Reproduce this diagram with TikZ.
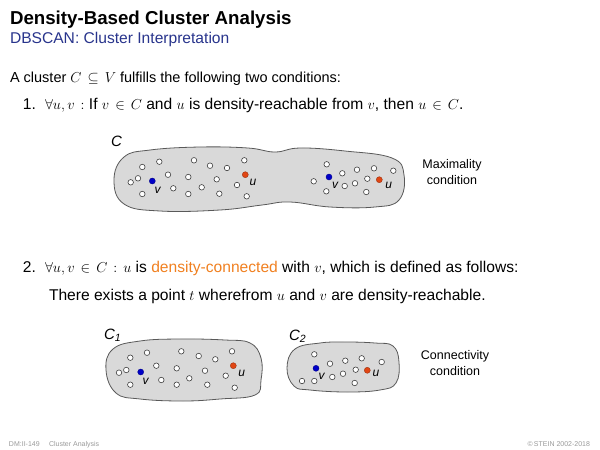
\documentclass[tikz,border=0pt]{standalone}
\usepackage{amsmath,amssymb}
\usepackage{fontspec}
\setmainfont{Liberation Sans}
\usepackage{tikz}
\definecolor{slideblue}{RGB}{40,52,140}
\definecolor{hlorange}{RGB}{240,128,32}
\definecolor{ptblue}{RGB}{0,0,200}
\definecolor{ptred}{RGB}{225,70,20}
\thickmuskip=7.5mu plus 5mu
\tikzset{
  slide/.style={x=1pt, y=-1pt, every node/.style={inner sep=0pt, outer sep=0pt}},
  txt/.style={anchor=base west, font=\fontsize{15.6}{18}\selectfont},
  blob/.style={draw=black!65, fill=black!15, line width=0.8pt},
  pt/.style={circle, draw=black!75, fill=white, line width=0.6pt, minimum size=5.5pt},
  vpt/.style={circle, fill=ptblue, draw=ptblue!70!black, line width=0.4pt, minimum size=6pt},
  upt/.style={circle, fill=ptred, draw=ptred!70!black, line width=0.4pt, minimum size=6pt},
  plbl/.style={font=\fontsize{12}{14}\selectfont\itshape},
  clbl/.style={anchor=base west, font=\fontsize{15}{18}\selectfont\itshape},
  cond/.style={align=center, font=\fontsize{12.5}{15.5}\selectfont},
  foot/.style={anchor=base west, text=black!40, font=\fontsize{7}{8}\selectfont}
}

\begin{document}
\begin{tikzpicture}[slide]
\useasboundingbox (0,0) rectangle (600,450);
% heading
\node[anchor=base west, font=\fontsize{18.7}{22}\selectfont\bfseries] (title) at (10,24) {Density-Based Cluster Analysis};
\node[anchor=base west, text=slideblue, font=\fontsize{15.6}{18}\selectfont] (subtitle) at (10,43) {DBSCAN: Cluster Interpretation};
% the two conditions
\node[txt, font=\fontsize{14.5}{18}\selectfont] (intro) at (10,82) {A cluster $C\subseteq V$ fulfills the following two conditions:};
\node[txt, anchor=base east] (n1) at (36,109) {1.};
\node[txt] (cond1) at (45,109) {$\forall u,v:$ If $v\in C$ and $u$ is density-reachable from $v$, then $u\in C$.};
\node[txt, anchor=base east] (n2) at (36,272) {2.};
\node[txt] (cond2) at (45,272) {$\forall u,v\in C: u$ is \textcolor{hlorange}{density-connected} with $v$, which is defined as follows:};
\node[txt] (cond2b) at (49,300) {There exists a point $t$ wherefrom $u$ and $v$ are density-reachable.};

% cluster C (maximality)
\draw[blob] plot[smooth cycle, tension=0.7] coordinates {(114,180) (124,157) (150,150) (200,147) (248,148) (275,152) (300,148) (345,151) (392,158) (404,175) (399,200) (375,207) (330,207) (290,202) (262,205) (220,210) (160,211) (124,204)};
\node[clbl] (C) at (111,146.5) {C};
\foreach \x/\y [count=\i] in {142.3/167, 159.3/161.7, 138/178.3, 130.7/182.3, 168/174.7, 142.3/194, 173.3/188.3, 194/160.3, 210/165.7, 227/168, 244.3/160.3, 188.3/177, 216.7/179.3, 237/185, 188.3/194, 201.7/187.3, 219.3/193.7, 246.7/196.3}
  \node[pt] (a\i) at (\x,\y) {};
\foreach \x/\y [count=\i] in {326.7/164.3, 313.7/181.3, 342.3/173.3, 357/169.7, 374/168.3, 393.3/170.7, 367.3/178.7, 355/183.3, 344.7/186, 326.3/191.3, 366.3/192}
  \node[pt] (b\i) at (\x,\y) {};
\node[vpt] (va) at (152.3,181) {};
\node[upt] (ua) at (245.3,174.7) {};
\node[vpt] (vb) at (329,177) {};
\node[upt] (ub) at (379.3,179.7) {};
\node[plbl] (va lbl) at (157.5,190) {v};
\node[plbl] (ua lbl) at (253,182.5) {u};
\node[plbl] (vb lbl) at (335,185) {v};
\node[plbl] (ub lbl) at (388.7,185) {u};
\node[cond] (maxcond) at (452,172) {Maximality\\condition};

% clusters C1 and C2 (connectivity)
\draw[blob] plot[smooth cycle, tension=0.7] coordinates {(106,370) (113,349) (140,341) (180,339) (225,340) (250,343) (261,358) (261,380) (255,395) (220,399) (183,401) (140,399) (116,393)};
\draw[blob] plot[smooth cycle, tension=0.7] coordinates {(287,368) (295,349) (320,343) (345,342) (375,343) (393,346) (399,362) (396,383) (380,390) (347,392) (310,390) (294,386)};
\node[clbl] (C1) at (104,339.5) {C\textsubscript{1}};
\node[clbl] (C2) at (289,340.5) {C\textsubscript{2}};
\foreach \x/\y [count=\i] in {130.3/357.7, 147/352.7, 119/372.7, 126.3/370, 156.3/365.7, 130.3/384.7, 161.3/380, 181.3/351.3, 198.7/356, 215.3/359.3, 232/351.3, 176.7/368.3, 205/370.7, 225.7/375.7, 176.7/384.7, 189.3/378.3, 207.3/384.7, 234.7/387.7}
  \node[pt] (c\i) at (\x,\y) {};
\foreach \x/\y [count=\i] in {314.3/354.3, 302/381, 330/363.7, 345.3/360.7, 361.7/358.3, 381.7/362, 314.3/381, 332.3/377, 343/373.7, 355.7/369.7, 354.7/383}
  \node[pt] (d\i) at (\x,\y) {};
\node[vpt] (vc) at (140.7,372) {};
\node[upt] (uc) at (233.3,365.7) {};
\node[vpt] (vd) at (316,368.3) {};
\node[upt] (ud) at (367.3,370.3) {};
\node[plbl] (vc lbl) at (145.7,381) {v};
\node[plbl] (uc lbl) at (241.7,373) {u};
\node[plbl] (vd lbl) at (321.7,376) {v};
\node[plbl] (ud lbl) at (376,373.5) {u};
\node[cond] (concond) at (455,363) {Connectivity\\condition};

% footer
\node[foot] (footl) at (9,446) {DM:II-149};
\node[foot] (footm) at (49,446) {Cluster Analysis};
\node[foot, anchor=base east] (footr) at (590,446) {\textcopyright\,STEIN 2002-2018};
\end{tikzpicture}
\end{document}
